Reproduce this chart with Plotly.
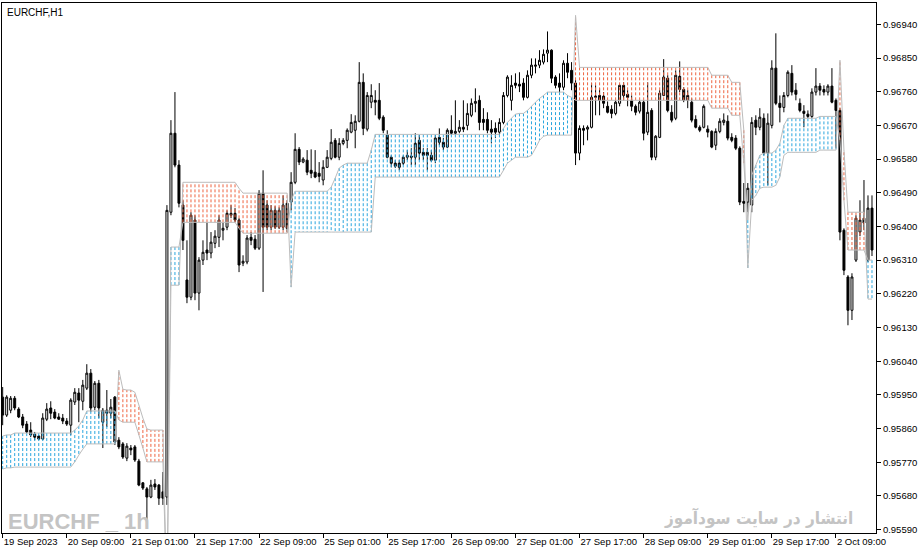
import plotly.graph_objects as go

# ── Price data: EURCHF H1, one entry per bar (19 Sep 17:00 .. 2 Oct) ─────────
bar_open = [
    0.95944, 0.95896, 0.95909, 0.95941, 0.95912, 0.95891, 0.95872, 0.95856, 0.95845, 0.95840,
    0.95832, 0.95885, 0.95915, 0.95904, 0.95891, 0.95888, 0.95880, 0.95869, 0.95931, 0.95955,
    0.95933, 0.95968, 0.96008, 0.95917, 0.95981, 0.95877, 0.95909, 0.95901, 0.95944, 0.95829,
    0.95819, 0.95781, 0.95808, 0.95811, 0.95773, 0.95715, 0.95699, 0.95677, 0.95712, 0.95709,
    0.95691, 0.95677, 0.96438, 0.96649, 0.96564, 0.96457, 0.96257, 0.96211, 0.96417, 0.96222,
    0.96310, 0.96337, 0.96329, 0.96355, 0.96371, 0.96390, 0.96398, 0.96430, 0.96435, 0.96417,
    0.96302, 0.96305, 0.96371, 0.96366, 0.96342, 0.96489, 0.96457, 0.96398, 0.96443, 0.96398,
    0.96398, 0.96462, 0.96465, 0.96518, 0.96606, 0.96572, 0.96577, 0.96550, 0.96545, 0.96542,
    0.96524, 0.96558, 0.96582, 0.96630, 0.96585, 0.96622, 0.96630, 0.96652, 0.96657, 0.96681,
    0.96785, 0.96660, 0.96732, 0.96737, 0.96737, 0.96692, 0.96644, 0.96585, 0.96569, 0.96569,
    0.96569, 0.96585, 0.96588, 0.96585, 0.96630, 0.96598, 0.96598, 0.96590, 0.96577, 0.96638,
    0.96625, 0.96612, 0.96657, 0.96649, 0.96654, 0.96665, 0.96670, 0.96697, 0.96729, 0.96737,
    0.96686, 0.96686, 0.96660, 0.96662, 0.96652, 0.96678, 0.96750, 0.96737, 0.96783, 0.96780,
    0.96783, 0.96745, 0.96804, 0.96828, 0.96831, 0.96839, 0.96863, 0.96871, 0.96799, 0.96783,
    0.96772, 0.96836, 0.96817, 0.96783, 0.96596, 0.96662, 0.96660, 0.96665, 0.96745, 0.96750,
    0.96748, 0.96721, 0.96713, 0.96702, 0.96729, 0.96777, 0.96753, 0.96737, 0.96721, 0.96708,
    0.96732, 0.96652, 0.96710, 0.96585, 0.96638, 0.96750, 0.96796, 0.96705, 0.96689, 0.96801,
    0.96766, 0.96737, 0.96732, 0.96686, 0.96665, 0.96665, 0.96660, 0.96654, 0.96617, 0.96654,
    0.96678, 0.96681, 0.96638, 0.96636, 0.96609, 0.96467, 0.96465, 0.96457, 0.96684, 0.96665,
    0.96689, 0.96596, 0.96670, 0.96823, 0.96729, 0.96718, 0.96750, 0.96809, 0.96764, 0.96729,
    0.96708, 0.96700, 0.96694, 0.96759, 0.96775, 0.96766, 0.96759, 0.96775, 0.96737, 0.96710,
    0.96390, 0.96265, 0.96176, 0.96310, 0.96385, 0.96422, 0.96310, 0.96449,
]
bar_high = [
    0.95971, 0.95949, 0.95947, 0.95947, 0.95917, 0.95899, 0.95880, 0.95877, 0.95851, 0.95843,
    0.95901, 0.95928, 0.95933, 0.95912, 0.95901, 0.95899, 0.95888, 0.95941, 0.95968, 0.95968,
    0.95990, 0.96032, 0.96019, 0.95987, 0.95990, 0.95915, 0.95963, 0.95939, 0.95947, 0.95837,
    0.95824, 0.95821, 0.95816, 0.95816, 0.95779, 0.95717, 0.95704, 0.95723, 0.95725, 0.95712,
    0.95744, 0.96457, 0.96684, 0.96759, 0.96577, 0.96470, 0.96363, 0.96438, 0.96430, 0.96318,
    0.96363, 0.96411, 0.96385, 0.96390, 0.96430, 0.96411, 0.96443, 0.96457, 0.96449, 0.96422,
    0.96323, 0.96377, 0.96385, 0.96377, 0.96497, 0.96550, 0.96470, 0.96457, 0.96454, 0.96451,
    0.96483, 0.96470, 0.96545, 0.96649, 0.96612, 0.96585, 0.96604, 0.96606, 0.96604, 0.96572,
    0.96577, 0.96604, 0.96660, 0.96636, 0.96636, 0.96636, 0.96662, 0.96700, 0.96697, 0.96839,
    0.96809, 0.96759, 0.96780, 0.96764, 0.96783, 0.96697, 0.96657, 0.96590, 0.96577, 0.96577,
    0.96590, 0.96604, 0.96609, 0.96649, 0.96644, 0.96609, 0.96609, 0.96604, 0.96644, 0.96662,
    0.96636, 0.96662, 0.96697, 0.96737, 0.96684, 0.96737, 0.96729, 0.96742, 0.96769, 0.96750,
    0.96716, 0.96705, 0.96684, 0.96678, 0.96689, 0.96759, 0.96804, 0.96804, 0.96809, 0.96812,
    0.96796, 0.96817, 0.96849, 0.96849, 0.96871, 0.96873, 0.96921, 0.96873, 0.96804, 0.96809,
    0.96844, 0.96863, 0.96839, 0.96791, 0.96670, 0.96670, 0.96670, 0.96783, 0.96777, 0.96769,
    0.96759, 0.96734, 0.96724, 0.96737, 0.96780, 0.96785, 0.96764, 0.96750, 0.96726, 0.96737,
    0.96737, 0.96785, 0.96716, 0.96644, 0.96764, 0.96847, 0.96804, 0.96724, 0.96817, 0.96841,
    0.96772, 0.96764, 0.96742, 0.96697, 0.96670, 0.96726, 0.96670, 0.96657, 0.96662, 0.96689,
    0.96702, 0.96697, 0.96649, 0.96644, 0.96614, 0.96516, 0.96516, 0.96692, 0.96697, 0.96716,
    0.96702, 0.96702, 0.96844, 0.96916, 0.96750, 0.96759, 0.96817, 0.96831, 0.96783, 0.96742,
    0.96724, 0.96710, 0.96769, 0.96823, 0.96783, 0.96777, 0.96780, 0.96823, 0.96742, 0.96716,
    0.96395, 0.96270, 0.96275, 0.96430, 0.96470, 0.96524, 0.96483, 0.96483,
]
bar_low = [
    0.95869, 0.95891, 0.95901, 0.95909, 0.95888, 0.95861, 0.95848, 0.95837, 0.95829, 0.95829,
    0.95829, 0.95880, 0.95885, 0.95885, 0.95883, 0.95872, 0.95867, 0.95843, 0.95923, 0.95877,
    0.95909, 0.95963, 0.95904, 0.95909, 0.95888, 0.95808, 0.95864, 0.95888, 0.95816, 0.95805,
    0.95779, 0.95773, 0.95789, 0.95771, 0.95706, 0.95696, 0.95616, 0.95674, 0.95696, 0.95656,
    0.95656, 0.95656, 0.96430, 0.96558, 0.96451, 0.96337, 0.96195, 0.96203, 0.96203, 0.96176,
    0.96297, 0.96310, 0.96315, 0.96342, 0.96345, 0.96363, 0.96390, 0.96422, 0.96411, 0.96278,
    0.96294, 0.96299, 0.96350, 0.96337, 0.96337, 0.96225, 0.96390, 0.96390, 0.96393, 0.96393,
    0.96390, 0.96385, 0.96443, 0.96513, 0.96564, 0.96569, 0.96537, 0.96529, 0.96529, 0.96518,
    0.96510, 0.96556, 0.96577, 0.96582, 0.96577, 0.96617, 0.96609, 0.96649, 0.96609, 0.96678,
    0.96644, 0.96654, 0.96716, 0.96697, 0.96684, 0.96649, 0.96582, 0.96558, 0.96556, 0.96550,
    0.96564, 0.96577, 0.96564, 0.96564, 0.96577, 0.96577, 0.96550, 0.96572, 0.96569, 0.96617,
    0.96604, 0.96609, 0.96644, 0.96644, 0.96649, 0.96652, 0.96657, 0.96692, 0.96705, 0.96657,
    0.96657, 0.96649, 0.96622, 0.96636, 0.96644, 0.96673, 0.96745, 0.96710, 0.96769, 0.96759,
    0.96737, 0.96742, 0.96796, 0.96809, 0.96823, 0.96833, 0.96839, 0.96783, 0.96769, 0.96756,
    0.96764, 0.96796, 0.96764, 0.96564, 0.96577, 0.96617, 0.96630, 0.96662, 0.96697, 0.96697,
    0.96716, 0.96702, 0.96689, 0.96697, 0.96721, 0.96737, 0.96721, 0.96708, 0.96697, 0.96702,
    0.96630, 0.96644, 0.96577, 0.96577, 0.96636, 0.96748, 0.96705, 0.96678, 0.96684, 0.96759,
    0.96732, 0.96716, 0.96678, 0.96662, 0.96652, 0.96662, 0.96638, 0.96609, 0.96604, 0.96649,
    0.96670, 0.96630, 0.96625, 0.96604, 0.96457, 0.96438, 0.96438, 0.96438, 0.96644, 0.96657,
    0.96590, 0.96510, 0.96662, 0.96724, 0.96678, 0.96705, 0.96745, 0.96750, 0.96737, 0.96705,
    0.96665, 0.96689, 0.96689, 0.96750, 0.96750, 0.96750, 0.96750, 0.96729, 0.96609, 0.96363,
    0.96270, 0.96136, 0.96150, 0.96305, 0.96374, 0.96390, 0.96305, 0.96321,
]
bar_close = [
    0.95896, 0.95944, 0.95941, 0.95915, 0.95891, 0.95869, 0.95851, 0.95843, 0.95837, 0.95832,
    0.95888, 0.95912, 0.95901, 0.95888, 0.95885, 0.95880, 0.95872, 0.95936, 0.95957, 0.95936,
    0.95976, 0.96008, 0.95915, 0.95981, 0.95915, 0.95909, 0.95901, 0.95917, 0.95824, 0.95811,
    0.95784, 0.95813, 0.95803, 0.95776, 0.95709, 0.95701, 0.95677, 0.95709, 0.95704, 0.95674,
    0.95674, 0.96443, 0.96649, 0.96564, 0.96462, 0.96363, 0.96211, 0.96430, 0.96222, 0.96310,
    0.96331, 0.96329, 0.96358, 0.96374, 0.96417, 0.96395, 0.96435, 0.96435, 0.96417, 0.96297,
    0.96307, 0.96369, 0.96363, 0.96342, 0.96489, 0.96398, 0.96398, 0.96443, 0.96398, 0.96443,
    0.96457, 0.96395, 0.96518, 0.96606, 0.96572, 0.96580, 0.96545, 0.96542, 0.96532, 0.96534,
    0.96558, 0.96585, 0.96625, 0.96585, 0.96622, 0.96630, 0.96657, 0.96678, 0.96681, 0.96785,
    0.96662, 0.96750, 0.96750, 0.96732, 0.96689, 0.96657, 0.96585, 0.96569, 0.96561, 0.96558,
    0.96585, 0.96590, 0.96585, 0.96622, 0.96596, 0.96590, 0.96590, 0.96577, 0.96636, 0.96625,
    0.96612, 0.96657, 0.96649, 0.96654, 0.96665, 0.96660, 0.96702, 0.96729, 0.96734, 0.96678,
    0.96678, 0.96657, 0.96652, 0.96652, 0.96678, 0.96750, 0.96799, 0.96777, 0.96777, 0.96775,
    0.96745, 0.96804, 0.96831, 0.96831, 0.96844, 0.96860, 0.96871, 0.96796, 0.96777, 0.96772,
    0.96836, 0.96812, 0.96783, 0.96596, 0.96662, 0.96657, 0.96665, 0.96745, 0.96748, 0.96737,
    0.96729, 0.96705, 0.96702, 0.96732, 0.96777, 0.96750, 0.96745, 0.96721, 0.96705, 0.96732,
    0.96649, 0.96705, 0.96585, 0.96641, 0.96756, 0.96799, 0.96710, 0.96684, 0.96804, 0.96766,
    0.96737, 0.96750, 0.96684, 0.96665, 0.96657, 0.96721, 0.96652, 0.96612, 0.96654, 0.96681,
    0.96684, 0.96636, 0.96630, 0.96609, 0.96465, 0.96462, 0.96502, 0.96678, 0.96665, 0.96692,
    0.96596, 0.96676, 0.96823, 0.96729, 0.96718, 0.96750, 0.96812, 0.96759, 0.96753, 0.96710,
    0.96702, 0.96694, 0.96759, 0.96775, 0.96764, 0.96759, 0.96775, 0.96732, 0.96710, 0.96385,
    0.96283, 0.96176, 0.96265, 0.96422, 0.96417, 0.96409, 0.96449, 0.96337,
]

# Ichimoku cloud spans (Senkou A / Senkou B) as shown on each bar
span_a = [
    0.95840, 0.95843, 0.95843, 0.95848, 0.95848, 0.95848, 0.95848, 0.95848, 0.95848, 0.95848,
    0.95848, 0.95848, 0.95848, 0.95848, 0.95848, 0.95848, 0.95848, 0.95848, 0.95856, 0.95867,
    0.95883, 0.95907, 0.95907, 0.95907, 0.95907, 0.95907, 0.95907, 0.95907, 0.95907, 0.95883,
    0.95877, 0.95877, 0.95877, 0.95877, 0.95843, 0.95808, 0.95771, 0.95771, 0.95771, 0.95771,
    0.95771, 0.95400, 0.96345, 0.96345, 0.96345, 0.96411, 0.96411, 0.96411, 0.96411, 0.96411,
    0.96411, 0.96411, 0.96411, 0.96411, 0.96411, 0.96411, 0.96411, 0.96411, 0.96411, 0.96395,
    0.96382, 0.96382, 0.96382, 0.96382, 0.96382, 0.96382, 0.96382, 0.96382, 0.96382, 0.96382,
    0.96382, 0.96382, 0.96470, 0.96494, 0.96494, 0.96494, 0.96494, 0.96494, 0.96494, 0.96494,
    0.96494, 0.96494, 0.96505, 0.96529, 0.96556, 0.96564, 0.96569, 0.96569, 0.96569, 0.96569,
    0.96569, 0.96569, 0.96604, 0.96646, 0.96646, 0.96646, 0.96646, 0.96646, 0.96646, 0.96646,
    0.96646, 0.96646, 0.96646, 0.96646, 0.96646, 0.96646, 0.96646, 0.96646, 0.96646, 0.96646,
    0.96646, 0.96646, 0.96646, 0.96646, 0.96646, 0.96646, 0.96646, 0.96646, 0.96646, 0.96646,
    0.96646, 0.96646, 0.96646, 0.96646, 0.96646, 0.96662, 0.96678, 0.96689, 0.96700, 0.96702,
    0.96702, 0.96710, 0.96721, 0.96732, 0.96742, 0.96750, 0.96759, 0.96759, 0.96759, 0.96759,
    0.96759, 0.96750, 0.96745, 0.96737, 0.96737, 0.96737, 0.96737, 0.96737, 0.96737, 0.96737,
    0.96737, 0.96737, 0.96737, 0.96737, 0.96737, 0.96737, 0.96737, 0.96737, 0.96737, 0.96737,
    0.96737, 0.96737, 0.96737, 0.96737, 0.96737, 0.96737, 0.96737, 0.96737, 0.96737, 0.96737,
    0.96737, 0.96737, 0.96737, 0.96737, 0.96737, 0.96737, 0.96737, 0.96716, 0.96716, 0.96716,
    0.96716, 0.96716, 0.96697, 0.96697, 0.96697, 0.96569, 0.96417, 0.96537, 0.96564, 0.96590,
    0.96596, 0.96596, 0.96596, 0.96604, 0.96622, 0.96670, 0.96689, 0.96689, 0.96689, 0.96689,
    0.96689, 0.96689, 0.96689, 0.96689, 0.96694, 0.96694, 0.96694, 0.96694, 0.96694, 0.96630,
    0.96470, 0.96337, 0.96337, 0.96337, 0.96337, 0.96337, 0.96310, 0.96310,
]
span_b = [
    0.95752, 0.95755, 0.95755, 0.95757, 0.95757, 0.95757, 0.95757, 0.95757, 0.95757, 0.95757,
    0.95757, 0.95757, 0.95757, 0.95757, 0.95757, 0.95757, 0.95757, 0.95757, 0.95771, 0.95789,
    0.95805, 0.95819, 0.95819, 0.95819, 0.95819, 0.95819, 0.95819, 0.95819, 0.95819, 0.96016,
    0.95965, 0.95963, 0.95963, 0.95957, 0.95923, 0.95888, 0.95859, 0.95856, 0.95856, 0.95856,
    0.95856, 0.95400, 0.96243, 0.96243, 0.96243, 0.96518, 0.96518, 0.96518, 0.96518, 0.96518,
    0.96518, 0.96518, 0.96518, 0.96518, 0.96518, 0.96518, 0.96518, 0.96518, 0.96518, 0.96502,
    0.96489, 0.96489, 0.96489, 0.96489, 0.96489, 0.96489, 0.96489, 0.96489, 0.96489, 0.96489,
    0.96489, 0.96489, 0.96238, 0.96385, 0.96385, 0.96385, 0.96385, 0.96385, 0.96385, 0.96385,
    0.96385, 0.96385, 0.96385, 0.96385, 0.96385, 0.96385, 0.96385, 0.96385, 0.96385, 0.96385,
    0.96385, 0.96385, 0.96385, 0.96532, 0.96532, 0.96532, 0.96532, 0.96532, 0.96532, 0.96532,
    0.96532, 0.96532, 0.96532, 0.96532, 0.96532, 0.96532, 0.96532, 0.96532, 0.96532, 0.96532,
    0.96532, 0.96532, 0.96532, 0.96532, 0.96532, 0.96532, 0.96532, 0.96532, 0.96532, 0.96532,
    0.96532, 0.96532, 0.96532, 0.96532, 0.96532, 0.96550, 0.96569, 0.96577, 0.96585, 0.96585,
    0.96585, 0.96585, 0.96590, 0.96609, 0.96630, 0.96641, 0.96644, 0.96644, 0.96644, 0.96644,
    0.96644, 0.96644, 0.96644, 0.96964, 0.96825, 0.96825, 0.96825, 0.96825, 0.96825, 0.96825,
    0.96825, 0.96825, 0.96825, 0.96825, 0.96825, 0.96825, 0.96825, 0.96825, 0.96825, 0.96825,
    0.96825, 0.96825, 0.96825, 0.96825, 0.96825, 0.96825, 0.96825, 0.96825, 0.96825, 0.96825,
    0.96825, 0.96825, 0.96825, 0.96825, 0.96825, 0.96825, 0.96825, 0.96804, 0.96804, 0.96804,
    0.96804, 0.96804, 0.96785, 0.96785, 0.96785, 0.96657, 0.96289, 0.96470, 0.96483, 0.96502,
    0.96505, 0.96505, 0.96505, 0.96510, 0.96532, 0.96590, 0.96598, 0.96598, 0.96598, 0.96598,
    0.96598, 0.96598, 0.96598, 0.96598, 0.96604, 0.96604, 0.96604, 0.96604, 0.96604, 0.96844,
    0.96604, 0.96438, 0.96438, 0.96438, 0.96438, 0.96438, 0.96206, 0.96206,
]

time_labels = [
    '19 Sep 2023', '20 Sep 09:00', '21 Sep 01:00', '21 Sep 17:00', '22 Sep 09:00',
    '25 Sep 01:00', '25 Sep 17:00', '26 Sep 09:00', '27 Sep 01:00', '27 Sep 17:00',
    '28 Sep 09:00', '29 Sep 01:00', '29 Sep 17:00', '2 Oct 09:00',
]
LABEL_EVERY = 16   # bars between two time labels

CLOUD_UP = '#2ba6de'
CLOUD_DOWN = '#ee6441'
SPAN_LINE = '#bcbcbc'
WATERMARK = '#c4c4c4'
FONT = 'Liberation Sans'

bars = list(range(len(bar_close)))

fig = go.Figure()

# ── Cloud: a dotted stroke per bar between the two spans ─────────────────────
up_x, up_y, dn_x, dn_y = [], [], [], []
for i, (a, b) in enumerate(zip(span_a, span_b)):
    if a >= b:
        up_x += [i, i, None]
        up_y += [a, b, None]
    else:
        dn_x += [i, i, None]
        dn_y += [a, b, None]

for xs, ys, color in ((up_x, up_y, CLOUD_UP), (dn_x, dn_y, CLOUD_DOWN)):
    fig.add_trace(go.Scatter(
        x=xs, y=ys, mode='lines',
        line=dict(color=color, width=1, dash='3px,2px'),
        hoverinfo='skip', showlegend=False,
    ))

# span borders
for span in (span_a, span_b):
    fig.add_trace(go.Scatter(
        x=bars, y=span, mode='lines',
        line=dict(color=SPAN_LINE, width=1, simplify=False),
        hoverinfo='skip', showlegend=False,
    ))

# ── Candles ───────────────────────────────────────────────────────────────────
fig.add_trace(go.Candlestick(
    x=bars, open=bar_open, high=bar_high, low=bar_low, close=bar_close,
    increasing=dict(line=dict(color='black', width=1), fillcolor='white'),
    decreasing=dict(line=dict(color='black', width=1), fillcolor='black'),
    whiskerwidth=0, showlegend=False,
))

# ── Texts ─────────────────────────────────────────────────────────────────────
fig.add_annotation(
    text='EURCHF,H1', xref='paper', yref='paper', x=0.004, y=0.997,
    xanchor='left', yanchor='top', showarrow=False,
    font=dict(family=FONT, size=10, color='black'),
)
fig.add_annotation(
    text='<b>EURCHF _ 1h</b>', xref='paper', yref='paper', x=0.005, y=-0.006,
    xanchor='left', yanchor='bottom', showarrow=False,
    font=dict(family='Liberation Sans Narrow, Liberation Sans', size=22, color=WATERMARK),
)
fig.add_annotation(
    text='<b>انتشار در سایت سودآموز</b>', xref='paper', yref='paper', x=0.976, y=0.004,
    xanchor='right', yanchor='bottom', showarrow=False,
    font=dict(family='DejaVu Sans Condensed, DejaVu Sans', size=17, color=WATERMARK),
)

# ── Layout ────────────────────────────────────────────────────────────────────
fig.update_layout(
    width=920, height=554,
    paper_bgcolor='white', plot_bgcolor='white',
    margin=dict(l=2, r=44, t=3, b=21, pad=0),
    font=dict(family=FONT, size=9.5, color='black'),
    showlegend=False,
)
fig.update_xaxes(
    range=[-0.17, 218.0],
    tickvals=[k * LABEL_EVERY for k in range(len(time_labels))],
    ticktext=time_labels,
    tickangle=0,
    ticklabelposition='outside right',
    ticks='outside', ticklen=4, tickcolor='black',
    showline=True, mirror=True, linecolor='black', linewidth=1,
    showgrid=False, zeroline=False, automargin=False,
    rangeslider=dict(visible=False),
)
fig.update_yaxes(
    side='right', range=[0.95581, 0.96997],
    tick0=0.9559, dtick=0.0009, tickformat='.5f',
    ticks='outside', ticklen=4, tickcolor='black',
    showline=True, mirror=True, linecolor='black', linewidth=1,
    showgrid=False, zeroline=False, automargin=False,
)

# the page's default body margin would shift the figure out of the window
fig.write_html(
    'out.html',
    config={'displayModeBar': False},
    post_script="document.body.style.margin='0';",
)
